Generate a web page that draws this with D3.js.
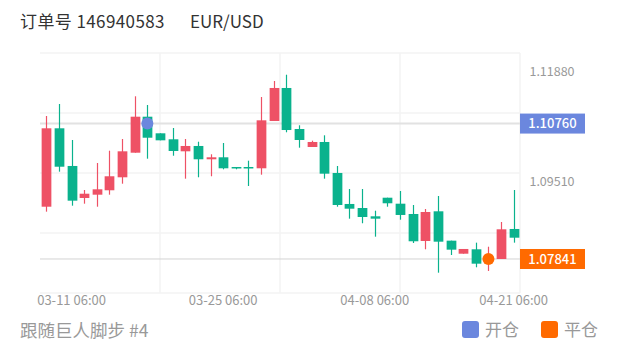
<!DOCTYPE html>
<html>
<head>
<meta charset="utf-8">
<script src="https://cdn.jsdelivr.net/npm/d3@7"></script>
<style>
  html, body { margin: 0; padding: 0; background: #fff; }
  svg { display: block; font-family: "Noto Sans CJK SC", "Noto Sans", sans-serif; }
</style>
</head>
<body>
<svg id="chart" width="620" height="350"></svg>
<script>
// ---- data ----
const dates = ["03-08","03-10","03-11","03-12","03-13","03-14","03-15","03-17","03-18","03-19",
  "03-20","03-21","03-22","03-24","03-25","03-26","03-27","03-28","03-29","03-31",
  "04-01","04-02","04-03","04-04","04-05","04-07","04-08","04-09","04-10","04-11",
  "04-12","04-14","04-15","04-16","04-17","04-18","04-19","04-21"];
const opens = [1.08968, 1.10658, 1.09846, 1.09156, 1.09227, 1.09322, 1.09602, 1.10132, 1.10908, 1.10550,
  1.10421, 1.10162, 1.10277, 1.09990, 1.10033, 1.09824, 1.09824, 1.09796, 1.10815, 1.11527,
  1.10643, 1.10255, 1.10363, 1.09695, 1.09027, 1.08940, 1.08761, 1.09162, 1.09033, 1.08811,
  1.08229, 1.08869, 1.08236, 1.07955, 1.08050, 1.07790, 1.07841, 1.08488];
const closes = [1.10658, 1.09830, 1.09098, 1.09248, 1.09343, 1.09624, 1.10162, 1.10908, 1.10455, 1.10399,
  1.10169, 1.10277, 1.09990, 1.10033, 1.09796, 1.09796, 1.09796, 1.10830, 1.11527, 1.10621,
  1.10406, 1.10363, 1.09680, 1.09005, 1.08925, 1.08746, 1.08710, 1.09042, 1.08790, 1.08223,
  1.08854, 1.08214, 1.08042, 1.08057, 1.07740, 1.07870, 1.08481, 1.08300];
const highs = [1.10923, 1.11182, 1.10406, 1.09328, 1.09910, 1.10175, 1.10427, 1.11348, 1.11160, 1.10550,
  1.10664, 1.10427, 1.10369, 1.10098, 1.10341, 1.09824, 1.09960, 1.11333, 1.11677, 1.11813,
  1.10723, 1.10391, 1.10507, 1.09846, 1.09350, 1.09350, 1.08882, 1.09162, 1.09307, 1.09005,
  1.08919, 1.09199, 1.08236, 1.08057, 1.08193, 1.08106, 1.08639, 1.09328];
const lows = [1.08861, 1.09723, 1.08990, 1.09033, 1.08968, 1.09227, 1.09464, 1.10132, 1.10003, 1.10399,
  1.10067, 1.09572, 1.09602, 1.09624, 1.09774, 1.09774, 1.09414, 1.09658, 1.10815, 1.10572,
  1.10240, 1.10255, 1.09572, 1.08968, 1.08710, 1.08611, 1.08322, 1.08968, 1.08688, 1.08186,
  1.08050, 1.07546, 1.07927, 1.07955, 1.07662, 1.07583, 1.07841, 1.08193];

const xTickDates = ["03-11", "03-25", "04-08", "04-21"];
const xTickLabels = ["03-11 06:00", "03-25 06:00", "04-08 06:00", "04-21 06:00"];
const yTickValues = [1.11880, 1.09510];
const openTrade = { date: "03-18", price: 1.10760 };
const closeTrade = { date: "04-18", price: 1.07841 };
const priceDomain = [1.07108, 1.12281];

const titleOrder = "订单号 146940583";
const titleSymbol = "EUR/USD";
const footerText = "跟随巨人脚步 #4";
const legendItems = ["开仓", "平仓"];

// ---- styles ----
const UP = "#ee5165", DOWN = "#0ab28d", OPEN_C = "#6b87de", CLOSE_C = "#ff6a00";

const svg = d3.select("#chart");
const plot = { left: 40, right: 520, top: 53, bottom: 293 };

const x = d3.scaleBand().domain(dates).range([plot.left, plot.right])
  .paddingInner(0.23).paddingOuter(0.115);
const cx = d => x(d) + x.bandwidth() / 2;
const y = d3.scaleLinear().domain(priceDomain).range([plot.bottom, plot.top]);

// grid
const gx = d3.scaleLinear().domain([0, 4]).range([plot.left, plot.right]);
const gy = d3.scaleLinear().domain([0, 4]).range([plot.top, plot.bottom]);
const grid = svg.append("g");
grid.selectAll("line.h").data(d3.range(5)).join("line")
  .attr("x1", plot.left).attr("x2", plot.right)
  .attr("y1", d => gy(d)).attr("y2", d => gy(d))
  .attr("stroke", "#f3f3f3").attr("stroke-width", 1.5);
grid.selectAll("line.v").data(d3.range(1, 5)).join("line")
  .attr("x1", d => gx(d)).attr("x2", d => gx(d))
  .attr("y1", plot.top).attr("y2", plot.bottom)
  .attr("stroke", "#f3f3f3").attr("stroke-width", 1.5);

// price lines
svg.append("line").attr("x1", plot.left).attr("x2", plot.right)
  .attr("y1", y(openTrade.price)).attr("y2", y(openTrade.price))
  .attr("stroke", "#e2e2e2").attr("stroke-width", 2);
svg.append("line").attr("x1", plot.left).attr("x2", plot.right)
  .attr("y1", y(closeTrade.price)).attr("y2", y(closeTrade.price))
  .attr("stroke", "#d3d3d3").attr("stroke-width", 1);

// candles
const candles = dates.map((d, i) => ({ d, o: opens[i], c: closes[i], h: highs[i], l: lows[i] }));
const cg = svg.append("g");
cg.selectAll("line.wick").data(candles).join("line")
  .attr("x1", d => Math.round(cx(d.d)) + 0.5).attr("x2", d => Math.round(cx(d.d)) + 0.5)
  .attr("y1", d => y(d.h)).attr("y2", d => y(d.l))
  .attr("stroke", d => d.c >= d.o ? UP : DOWN).attr("stroke-width", 1.2);
cg.selectAll("rect.body").data(candles).join("rect")
  .attr("x", d => Math.round(cx(d.d)) + 0.5 - x.bandwidth() / 2)
  .attr("width", x.bandwidth())
  .attr("y", d => y(Math.max(d.o, d.c)))
  .attr("height", d => Math.max(1.5, Math.abs(y(d.o) - y(d.c))))
  .attr("fill", d => d.c >= d.o ? UP : DOWN);

// trade markers
svg.append("circle").attr("cx", cx(openTrade.date)).attr("cy", y(openTrade.price))
  .attr("r", 6).attr("fill", OPEN_C);
svg.append("circle").attr("cx", cx(closeTrade.date)).attr("cy", y(closeTrade.price))
  .attr("r", 6).attr("fill", CLOSE_C);

// right axis
const ax = svg.append("g");
ax.selectAll("text").data(yTickValues).join("text")
  .attr("x", 552).attr("y", d => y(d)).attr("dy", "0.35em")
  .attr("text-anchor", "middle").attr("font-size", 12.5).attr("fill", "#999")
  .text(d => d.toFixed(5));
[[openTrade.price, OPEN_C], [closeTrade.price, CLOSE_C]].forEach(([p, col]) => {
  ax.append("rect").attr("x", plot.right).attr("y", y(p) - 10)
    .attr("width", 65).attr("height", 20).attr("fill", col);
  ax.append("text").attr("x", plot.right + 32.5).attr("y", y(p)).attr("dy", "0.35em")
    .attr("text-anchor", "middle").attr("font-size", 13).attr("font-weight", 500)
    .attr("fill", "#fff").text(p.toFixed(5));
});

// x labels
svg.append("g").selectAll("text").data(xTickDates).join("text")
  .attr("x", d => cx(d)).attr("y", 300).attr("dy", "0.35em")
  .attr("text-anchor", "middle").attr("font-size", 13).attr("fill", "#999")
  .text((d, i) => xTickLabels[i]);

// title
svg.append("text").attr("x", 20).attr("y", 28).attr("font-size", 17)
  .attr("letter-spacing", 0.4).attr("fill", "#333").text(titleOrder);
svg.append("text").attr("x", 190).attr("y", 28).attr("font-size", 17)
  .attr("fill", "#333").text(titleSymbol);

// footer
svg.append("text").attr("x", 20).attr("y", 337).attr("font-size", 17.5).attr("fill", "#999").text(footerText);

// legend
const lg = svg.append("g");
[[462, OPEN_C], [541, CLOSE_C]].forEach(([lx, col], i) => {
  lg.append("rect").attr("x", lx).attr("y", 321).attr("width", 17).attr("height", 17)
    .attr("rx", 3).attr("fill", col);
  lg.append("text").attr("x", lx + 23).attr("y", 336).attr("font-size", 17)
    .attr("fill", "#999").text(legendItems[i]);
});
</script>
</body>
</html>
